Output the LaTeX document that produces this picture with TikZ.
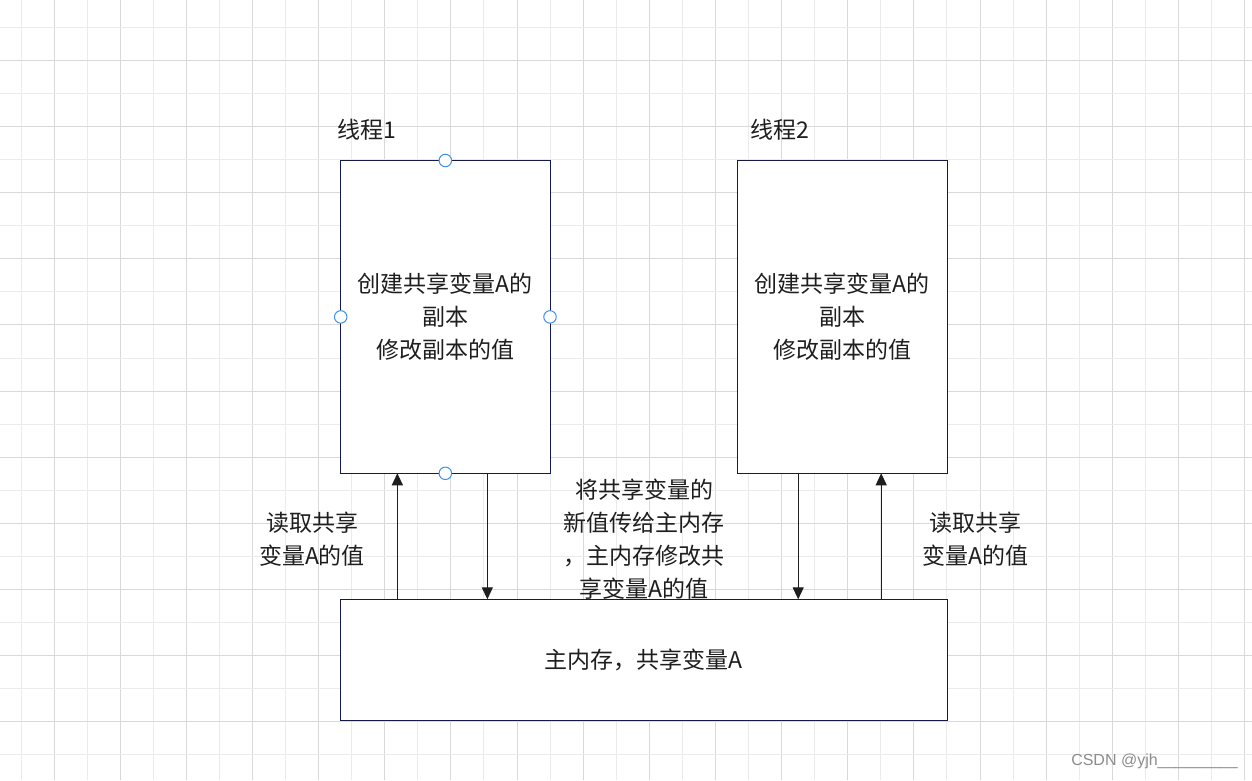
\documentclass[tikz,border=0pt]{standalone}
\usepackage{fontspec}
\newfontfamily\cjk{Noto Sans CJK SC}
\newfontfamily\wmfont{Liberation Sans}
\usetikzlibrary{arrows.meta}
\definecolor{gridlight}{HTML}{EBEBEB}
\definecolor{griddark}{HTML}{D9D9D9}
\definecolor{boxline}{HTML}{141A45}
\definecolor{inkcol}{HTML}{1E1E1E}
\definecolor{handle}{HTML}{3C8FEA}
\tikzset{
  box/.style={draw=boxline, line width=1pt, fill=white, inner sep=0pt, outer sep=0pt,
    align=center, text=inkcol, font=\cjk\fontsize{23}{33}\selectfont},
  lbl/.style={align=center, text=inkcol, inner sep=0pt, font=\cjk\fontsize{23}{33}\selectfont},
  arr/.style={draw=inkcol, line width=1.2pt, -{Triangle[width=11pt,length=12pt]}},
  knob/.style={circle, draw=handle, fill=white, line width=1pt, minimum size=12.5pt, inner sep=0pt},
}
\begin{document}
\begin{tikzpicture}[x=1pt,y=-1pt]
\useasboundingbox (0,0) rectangle (1252,780);
\fill[white] (0,0) rectangle (1252,780);
% background grid
\foreach \k in {0,...,37}{
  \pgfmathsetmacro{\gx}{21+33.07*\k}
  \ifodd\k
    \draw[griddark, line width=1pt] (\gx,0) -- (\gx,780);
  \else
    \draw[gridlight, line width=1pt] (\gx,0) -- (\gx,780);
  \fi
}
\foreach \k in {0,...,22}{
  \pgfmathsetmacro{\gy}{27.3+33.07*\k}
  \ifodd\k
    \draw[griddark, line width=1pt] (0,\gy) -- (1252,\gy);
  \else
    \draw[gridlight, line width=1pt] (0,\gy) -- (1252,\gy);
  \fi
}
% thread boxes and main memory
\node[box, minimum width=209.3pt, minimum height=312.8pt] (t1) at (445.35,316.9)
  {创建共享变量A的\\副本\\修改副本的值};
\node[box, minimum width=210pt, minimum height=312.8pt] (t2) at (842.2,316.9)
  {创建共享变量A的\\副本\\修改副本的值};
\node[box, minimum width=606.3pt, minimum height=121.2pt] (mem) at (643.85,659.9)
  {主内存，共享变量A};
% titles
\node[lbl, anchor=west] (h1) at (337,130) {线程1};
\node[lbl, anchor=west] (h2) at (750,130) {线程2};
% connectors
\draw[arr] ([xshift=-48pt]t1.south |- mem.north) -- ([xshift=-48pt]t1.south);
\draw[arr] ([xshift=42pt]t1.south) -- ([xshift=42pt]t1.south |- mem.north);
\draw[arr] ([xshift=-44pt]t2.south) -- ([xshift=-44pt]t2.south |- mem.north);
\draw[arr] ([xshift=39pt]t2.south |- mem.north) -- ([xshift=39pt]t2.south);
% connector labels
\node[lbl] (l1) at (312,539.5) {读取共享\\变量A的值};
\node[lbl] (l2) at (644,539.5) {将共享变量的\\新值传给主内存\\，主内存修改共\\享变量A的值};
\node[lbl] (l3) at (975,539.5) {读取共享\\变量A的值};
% selection handles on the first box
\node[knob] (k1) at (t1.north) {};
\node[knob] (k2) at (t1.south) {};
\node[knob] (k3) at (t1.west) {};
\node[knob] (k4) at (t1.east) {};
% watermark
\node[anchor=east, inner sep=0pt, text=black!45, font=\wmfont\fontsize{16}{18}\selectfont] (wm) at (1238,761) {CSDN @yjh\_\_\_\_\_\_\_\_\_};
\end{tikzpicture}
\end{document}
